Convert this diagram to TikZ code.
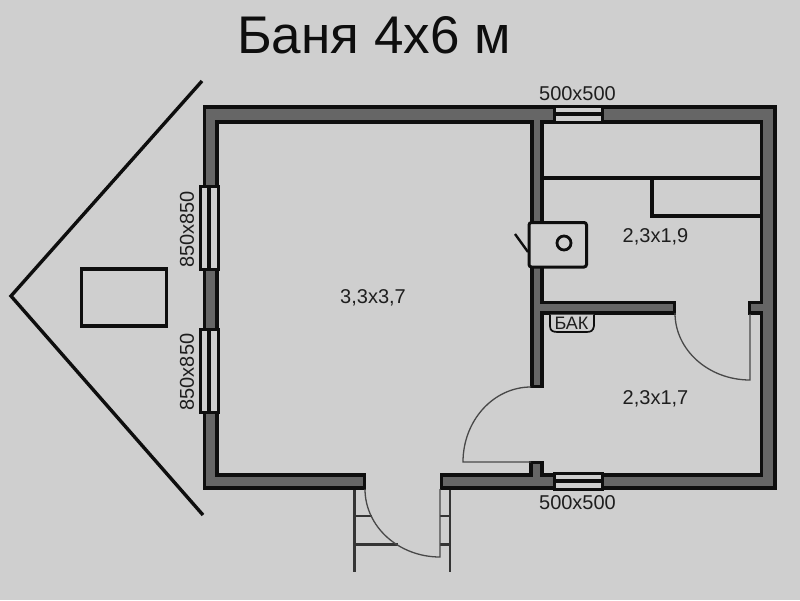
\documentclass[tikz,border=0pt]{standalone}
\usepackage{fontspec}
\setmainfont{Liberation Sans}
\definecolor{bg}{HTML}{CFCFCF}
\definecolor{wallfill}{HTML}{666666}
\definecolor{ink}{HTML}{0E0E0E}
\definecolor{txt}{HTML}{1E1E1E}
\tikzset{
  wall/.style={draw=ink,fill=wallfill,line width=3.8pt,line join=miter},
  win/.style={draw=ink,fill=bg,line width=3pt},
  heavy/.style={draw=ink,line width=3.4pt},
  medium/.style={draw=ink!80!bg,line width=2.2pt},
  thin door/.style={draw=ink!70!bg,line width=1.3pt},
  lbl/.style={text=txt,inner sep=0pt,font=\fontsize{20}{22}\selectfont},
}
\begin{document}
\begin{tikzpicture}[x=1pt,y=-1pt]
\useasboundingbox[fill=bg] (0,0) rectangle (800,600);
% roof and terrace
\draw[heavy,line join=miter] (202,81) -- (11,296) -- (203,515);
\draw[draw=ink,line width=3.2pt] (81.5,269) rectangle (166.5,326);
% steps
\draw[medium] (354.5,489) -- (354.5,572);
\draw[medium] (450,489) -- (450,572);
\draw[medium] (354.5,516) -- (372,516);
\draw[medium] (354.5,544.5) -- (398,544.5);
\draw[medium] (440,516) -- (450,516);
\draw[medium] (440,544.5) -- (450,544.5);
% walls
\draw[wall] (204.5,107) -- (775,107) -- (775,488) -- (441.5,488) -- (441.5,475) -- (531,475)
  -- (531,462.5) -- (542,462.5) -- (542,475) -- (761.5,475) -- (761.5,313) -- (749.5,313)
  -- (749.5,302.5) -- (761.5,302.5) -- (761.5,122) -- (542,122) -- (542,302.5) -- (674.5,302.5)
  -- (674.5,313) -- (542,313) -- (542,386.5) -- (532,386.5) -- (532,122) -- (217,122)
  -- (217,475) -- (364.5,475) -- (364.5,488) -- (204.5,488) -- cycle;
% windows
\foreach \a/\b in {186/269,329/412}{
  \draw[win] (200,\a) rectangle (218,\b);
  \draw[heavy] (209,\a) -- (209,\b);
}
\foreach \a in {106,473}{
  \draw[win] (554,\a) rectangle (602,\a+16);
  \draw[heavy] (554,\a+8) -- (602,\a+8);
}
% bench
\draw[heavy] (542,178) -- (761,178);
\draw[heavy,line join=miter] (652,178) -- (652,216) -- (761,216);
% doors
\draw[thin door] (440,489) -- (440,557) arc[start angle=90,end angle=180,x radius=75,y radius=68];
\draw[thin door] (531,462) -- (463,462) arc[start angle=180,end angle=270,x radius=68,y radius=75];
\draw[thin door] (750,314) -- (750,380) arc[start angle=90,end angle=180,x radius=75,y radius=67];
% stove
\draw[draw=ink,fill=bg,line width=3pt,rounded corners=2.5pt] (529,222.5) rectangle (586.5,267);
\draw[draw=ink,line width=2.8pt] (564,243) circle[radius=7];
\draw[draw=ink,line width=2.4pt] (515,234) -- (528,252);
% tank
\draw[draw=ink,line width=1.7pt,fill=bg] (550,314.5) -- (550,326) .. controls (550,331) and (553,332) .. (558,332) -- (586,332) .. controls (591,332) and (593,331) .. (594,326) -- (594,314.5);
\node[lbl,font=\fontsize{18}{19}\selectfont] (bak) at (571.5,323) {БАК};
% labels
\node[text=ink,inner sep=0pt,anchor=base,font=\fontsize{53}{55}\selectfont] (title) at (374,53) {Баня 4х6 м};
\node[lbl] (w1) at (577.5,93.5) {500x500};
\node[lbl] (w2) at (577.5,503) {500x500};
\node[lbl,rotate=90] (w3) at (187,229.5) {850x850};
\node[lbl,rotate=90] (w4) at (187,372) {850x850};
\node[lbl] (r1) at (373,298) {3,3x3,7};
\node[lbl] (r2) at (655.5,237) {2,3x1,9};
\node[lbl] (r3) at (655.5,399) {2,3x1,7};
\end{tikzpicture}
\end{document}
